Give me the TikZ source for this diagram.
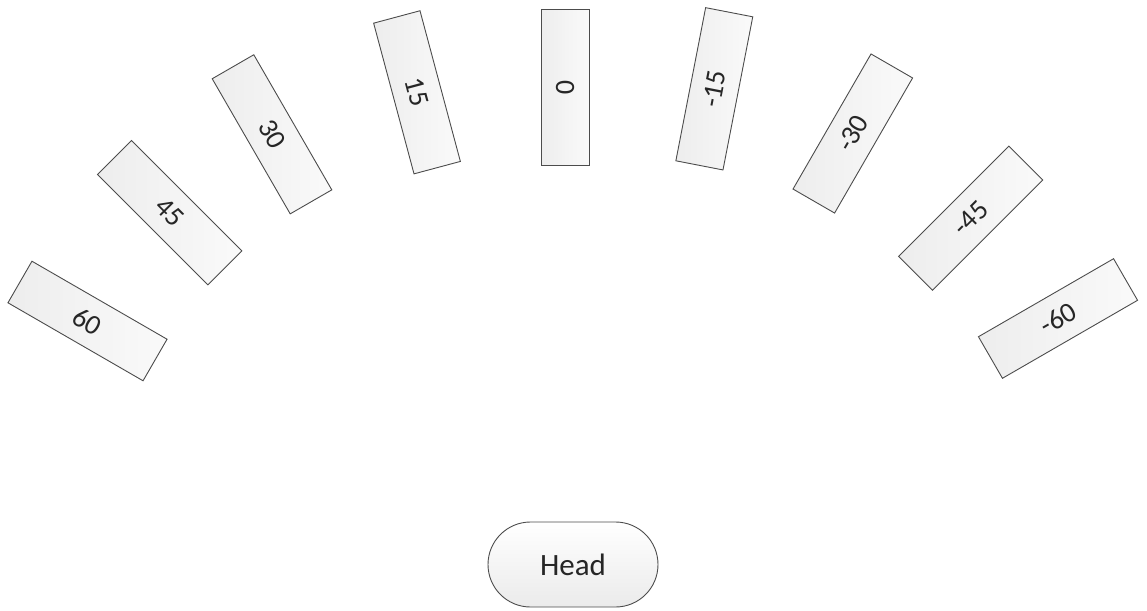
\documentclass[tikz,border=0pt]{standalone}
\usepackage{fontspec}
\setmainfont{Carlito}
\usetikzlibrary{shapes.misc}
\begin{document}
\begin{tikzpicture}[x=1pt,y=-1pt,
  anglebox/.style={draw=black!70, line width=0.9pt, left color=black!7, right color=black!2,
    minimum width=156pt, minimum height=48pt, inner sep=0pt,
    font=\fontsize{28}{32}\selectfont, text=black!85},
  headbox/.style={rounded rectangle, draw=black!70, line width=0.9pt, top color=white, bottom color=black!8,
    minimum width=170pt, minimum height=85pt, inner sep=0pt,
    font=\fontsize{31}{36}\selectfont, text=black!85}]
\useasboundingbox (0,0) rectangle (1147,610);
\node[anglebox, rotate=-30] (p60) at (87.5,321) {60};
\node[anglebox, rotate=-45] (p45) at (169.7,212.7) {45};
\node[anglebox, rotate=-60] (p30) at (272,134.3) {30};
\node[anglebox, rotate=-75] (p15) at (417,92.3) {15};
\node[anglebox, rotate=-90] (z0) at (565,87.5) {0};
\node[anglebox, rotate=79] (m15) at (714.3,88.8) {-15};
\node[anglebox, rotate=60] (m30) at (852.8,133.5) {-30};
\node[anglebox, rotate=45] (m45) at (970.7,218.2) {-45};
\node[anglebox, rotate=30] (m60) at (1058,318.5) {-60};
\node[headbox] (head) at (573,564.5) {Head};
\end{tikzpicture}
\end{document}
